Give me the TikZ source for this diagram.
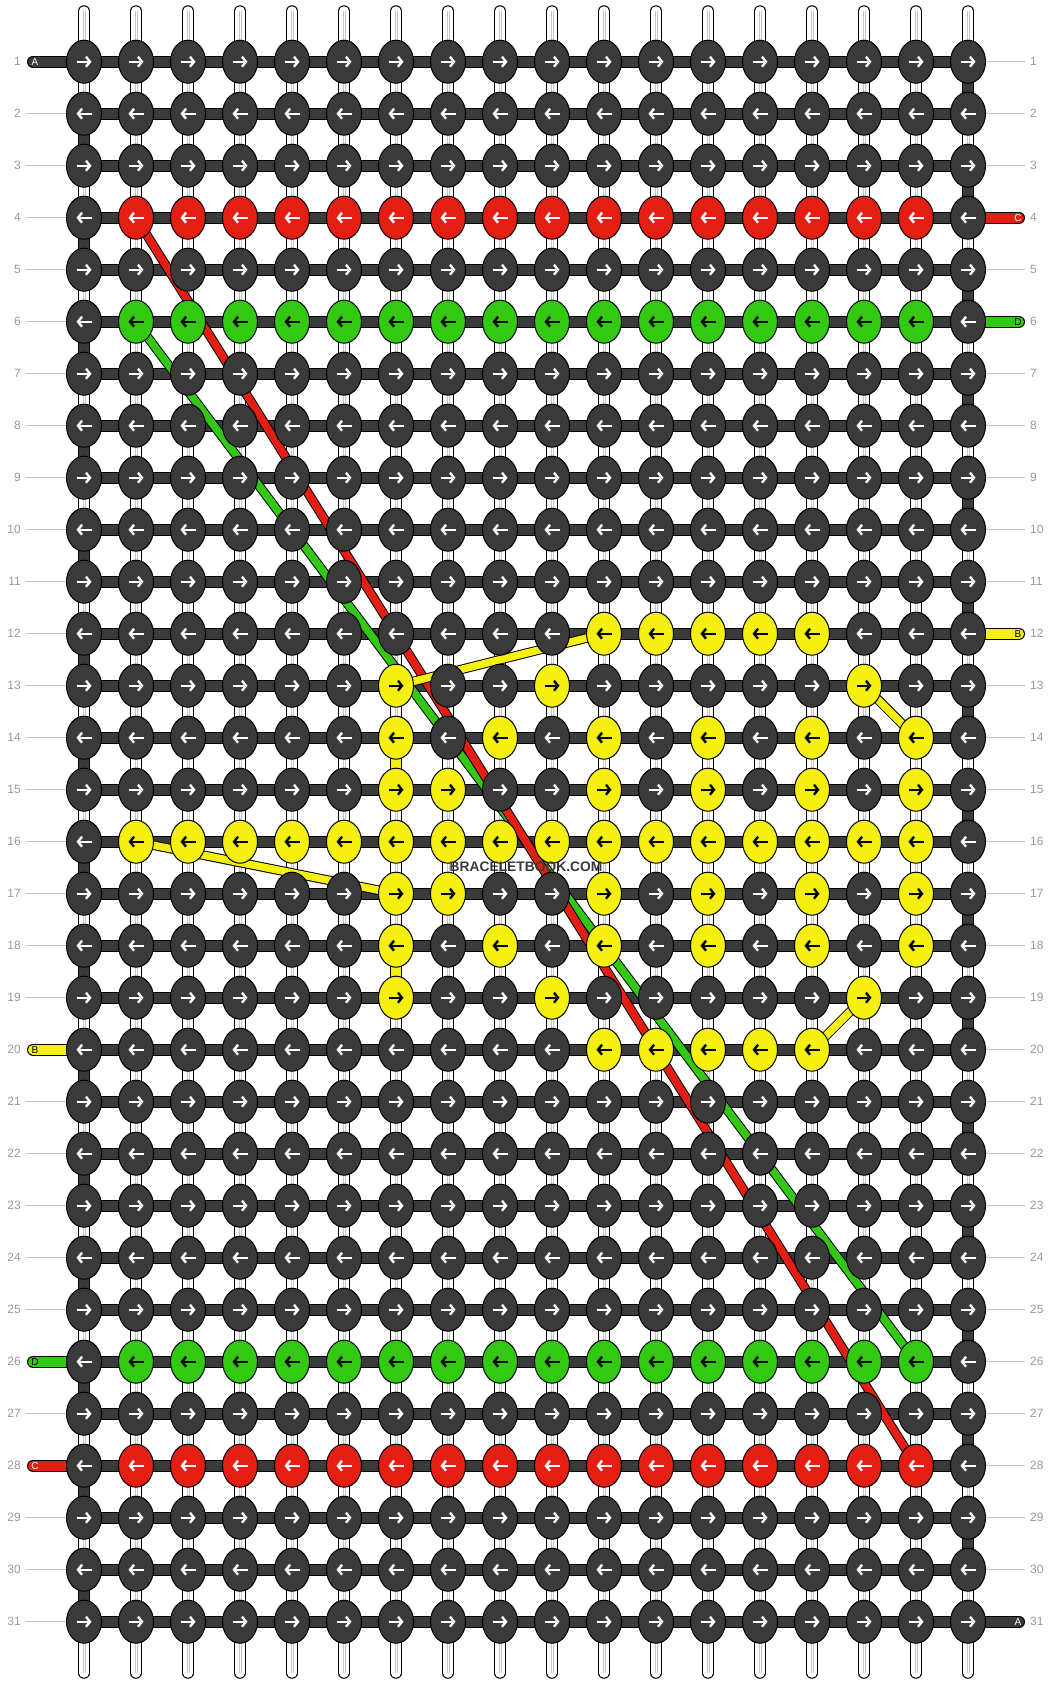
\documentclass[tikz,border=0pt]{standalone}
\usepackage{fontspec}
\setmainfont{Liberation Sans}
\usetikzlibrary{shapes.geometric,arrows.meta}
\definecolor{kD}{HTML}{3A3A3A}
\definecolor{kR}{HTML}{E41E12}
\definecolor{kG}{HTML}{32C814}
\definecolor{kY}{HTML}{F5F00F}
\colorlet{aD}{white}
\colorlet{aR}{white}
\colorlet{aG}{black}
\colorlet{aY}{black}
\definecolor{numgray}{HTML}{9A9A9A}
\definecolor{linegray}{HTML}{C4C4C4}
\pgfdeclarelayer{bgfill}
\pgfdeclarelayer{strands}
\pgfdeclarelayer{diag}
\pgfsetlayers{bgfill,strands,diag,main}
\tikzset{
  knot/.style={ellipse, draw=black, line width=1pt, minimum width=35pt, minimum height=43pt, inner sep=0pt},
  bar/.style={draw=black, line width=1pt, double=#1, double distance=10pt},
  stubbar/.style={bar=#1, line cap=round},
  vstrand/.style={draw=black, line width=1pt, double=white, double distance=9.5pt, line cap=round},
  diagline/.style={draw=black, line width=1pt, double=#1, double distance=7.5pt},
  arrowmark/.style={draw=#1, line width=2.4pt, -{Straight Barb[length=4pt,width=10pt]}},
  rownum/.style={text=numgray, font=\fontsize{12}{12}\selectfont, inner sep=0pt},
  stubtext/.style={font=\fontsize{10}{10}\selectfont, inner sep=0pt, text=#1},
  guide/.style={draw=linegray, line width=1pt},
}
\def\pD{D,D,D,D,D,D,D,D,D,D,D,D,D,D,D,D,D,D}
\def\pR{D,R,R,R,R,R,R,R,R,R,R,R,R,R,R,R,R,D}
\def\pG{D,G,G,G,G,G,G,G,G,G,G,G,G,G,G,G,G,D}
\def\pY{D,Y,Y,Y,Y,Y,Y,Y,Y,Y,Y,Y,Y,Y,Y,Y,Y,D}
\def\pA{D,D,D,D,D,D,D,D,D,D,Y,Y,Y,Y,Y,D,D,D}
\def\pB{D,D,D,D,D,D,Y,D,D,Y,D,D,D,D,D,Y,D,D}
\def\pC{D,D,D,D,D,D,Y,D,Y,D,Y,D,Y,D,Y,D,Y,D}
\def\pE{D,D,D,D,D,D,Y,Y,D,D,Y,D,Y,D,Y,D,Y,D}
\begin{document}
\begin{tikzpicture}[x=1pt,y=-1pt]
\begin{pgfonlayer}{bgfill}
\fill[white] (0,0) rectangle (1052,1684);
\end{pgfonlayer}
\useasboundingbox (0,0) rectangle (1052,1684);
% knots
\foreach \r/\p in {1/\pD,2/\pD,3/\pD,4/\pR,5/\pD,6/\pG,7/\pD,8/\pD,9/\pD,10/\pD,11/\pD,12/\pA,13/\pB,14/\pC,15/\pE,16/\pY,17/\pE,18/\pC,19/\pB,20/\pA,21/\pD,22/\pD,23/\pD,24/\pD,25/\pD,26/\pG,27/\pD,28/\pR,29/\pD,30/\pD,31/\pD}{
  \edef\plist{\p}
  \pgfmathsetmacro\s{1-2*mod(\r+1,2)}
  \foreach \k [count=\c] in \plist {
    \node[knot, fill=k\k] (k\r-\c) at ({84+52*(\c-1)},{61.7+52*(\r-1)}) {};
    \draw[arrowmark=a\k, shift={(k\r-\c.center)}] ({-7.5*\s},0) -- ({7.5*\s},0);
  }
}
% strands and bars
\begin{pgfonlayer}{strands}
\foreach \c in {1,...,18}{
  \coordinate (top\c) at ({84+52*(\c-1)},11);
  \coordinate (bot\c) at ({84+52*(\c-1)},1673);
  \draw[vstrand] (top\c) -- (bot\c);
  \draw[linegray, line width=3pt] (top\c) -- (bot\c);
  \draw[white, line width=1pt] (top\c) -- (bot\c);
}
\foreach \r in {1,3,...,29}{
  \pgfmathtruncatemacro\n{\r+1}
  \draw[bar=kD] (k\r-18.center) -- (k\n-18.center);
}
\foreach \r in {2,4,...,30}{
  \pgfmathtruncatemacro\n{\r+1}
  \draw[bar=kD] (k\r-1.center) -- (k\n-1.center);
}
\draw[bar=kY] (k14-7.center) -- (k15-7.center);
\draw[bar=kY] (k18-7.center) -- (k19-7.center);
\foreach \r in {1,...,31}{
  \draw[bar=kD] (k\r-1.center) -- (k\r-18.center);
}
% guide lines
\foreach \r in {2,3,4,5,6,7,8,9,10,11,12,13,14,15,16,17,18,19,21,22,23,24,25,27,29,30,31}{
  \coordinate (gl\r) at (26,{61.7+52*(\r-1)});
  \draw[guide] (gl\r) -- (k\r-1.center);
}
\foreach \r in {1,2,3,5,7,8,9,10,11,13,14,15,16,17,18,19,20,21,22,23,24,25,26,27,28,29,30}{
  \coordinate (gr\r) at (1025,{61.7+52*(\r-1)});
  \draw[guide] (k\r-18.center) -- (gr\r);
}
% stubs
\coordinate (sl1) at (33,61.7);
\coordinate (sl20) at (33,{61.7+52*19});
\coordinate (sl26) at (33,{61.7+52*25});
\coordinate (sl28) at (33,{61.7+52*27});
\coordinate (sr4) at (1019,{61.7+52*3});
\coordinate (sr6) at (1019,{61.7+52*5});
\coordinate (sr12) at (1019,{61.7+52*11});
\coordinate (sr31) at (1019,{61.7+52*30});
\draw[stubbar=kD] (sl1) -- (k1-1.center);
\draw[stubbar=kY] (sl20) -- (k20-1.center);
\draw[stubbar=kG] (sl26) -- (k26-1.center);
\draw[stubbar=kR] (sl28) -- (k28-1.center);
\draw[stubbar=kR] (k4-18.center) -- (sr4);
\draw[stubbar=kG] (k6-18.center) -- (sr6);
\draw[stubbar=kY] (k12-18.center) -- (sr12);
\draw[stubbar=kD] (k31-18.center) -- (sr31);
\end{pgfonlayer}
% diagonal strings
\begin{pgfonlayer}{diag}
\draw[diagline=kG] (k6-2.center) -- (k26-17.center);
\draw[diagline=kR] (k4-2.center) -- (k28-17.center);
\draw[diagline=kY] (k12-11.center) -- (k13-7.center);
\draw[diagline=kY] (k13-16.center) -- (k14-17.center);
\draw[diagline=kY] (k16-2.center) -- (k17-7.center);
\draw[diagline=kY] (k19-16.center) -- (k20-15.center);
\end{pgfonlayer}
% stub letters
\node[stubtext=white] (lA1) at (35,61.7) {A};
\node[stubtext=black] (lB20) at (35,{61.7+52*19}) {B};
\node[stubtext=black] (lD26) at (35,{61.7+52*25}) {D};
\node[stubtext=white] (lC28) at (35,{61.7+52*27}) {C};
\node[stubtext=white] (lC4) at (1018,{61.7+52*3}) {C};
\node[stubtext=black] (lD6) at (1018,{61.7+52*5}) {D};
\node[stubtext=black] (lB12) at (1018,{61.7+52*11}) {B};
\node[stubtext=white] (lA31) at (1018,{61.7+52*30}) {A};
% row numbers
\foreach \r in {1,...,31}{
  \node[rownum, anchor=east] (nl\r) at (21,{61.7+52*(\r-1)}) {\r};
  \node[rownum, anchor=west] (nr\r) at (1030,{61.7+52*(\r-1)}) {\r};
}
\node[font=\bfseries\fontsize{13.8}{14}\selectfont, text=kD, inner sep=0pt] (wm) at (526,867) {BRACELETBOOK.COM};
\end{tikzpicture}
\end{document}
